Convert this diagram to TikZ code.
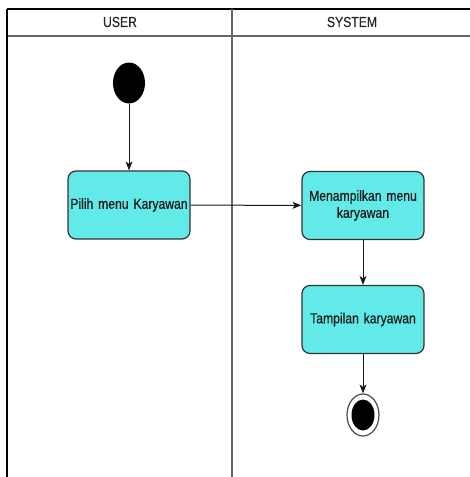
\documentclass[tikz,border=0pt]{standalone}
\usepackage{fontspec}
\setmainfont[FakeStretch=0.84, FakeBold=0.4, WordSpace=0.85]{Liberation Sans}
\usetikzlibrary{arrows.meta,shapes.geometric}
\definecolor{boxfill}{HTML}{62EAE8}
\definecolor{boxline}{HTML}{333333}
\definecolor{laneline}{HTML}{666666}
\tikzset{
  act/.style={draw=boxline, line width=1.2pt, fill=boxfill, rounded corners=8pt,
    minimum width=122pt, minimum height=68pt, align=center, text width=120pt,
    inner sep=1pt, font=\fontsize{14.5}{17}\selectfont, text=black!90},
  flow/.style={draw=black!90, line width=1pt, -{Stealth[length=9pt,width=7pt,inset=2.5pt]}},
  lanehead/.style={font=\fontsize{14.5}{16}\selectfont, text=black!85},
  startdot/.style={ellipse, fill=black, minimum width=32pt, minimum height=41pt, inner sep=0pt},
}
\begin{document}
\begin{tikzpicture}[x=1pt,y=-1pt]
\useasboundingbox (0,0) rectangle (469,477);
% swimlane frame
\draw[black, line width=1.2pt] (7,9) -- (480,9);
\draw[laneline, line width=1.2pt] (7,36) -- (480,36);
\draw[black, line width=1.2pt] (7,9) -- (7,480);
\draw[laneline, line width=1.2pt] (232,9) -- (232,480);
\node[lanehead] (huser) at (120,22) {USER};
\node[lanehead] (hsys) at (352,22) {SYSTEM};
% activity nodes
\node[startdot] (start) at (129,83) {};
\node[act] (pilih) at (129,205) {Pilih menu Karyawan};
\node[act] (menu) at (363,205.5) {Menampilkan menu\\karyawan};
\node[act] (tampil) at (363,319.5) {Tampilan karyawan};
\node[ellipse, draw=black!70, line width=1.2pt, fill=white, minimum width=32pt, minimum height=42pt, inner sep=0pt] (end) at (363,415) {};
\node[ellipse, fill=black, minimum width=23pt, minimum height=31pt, inner sep=0pt] (endin) at (end) {};
% flows
\draw[flow] (start) -- (pilih);
\draw[flow] (pilih) -- (menu);
\draw[flow] (menu) -- (tampil);
\draw[flow] (tampil) -- (end);
\end{tikzpicture}
\end{document}
